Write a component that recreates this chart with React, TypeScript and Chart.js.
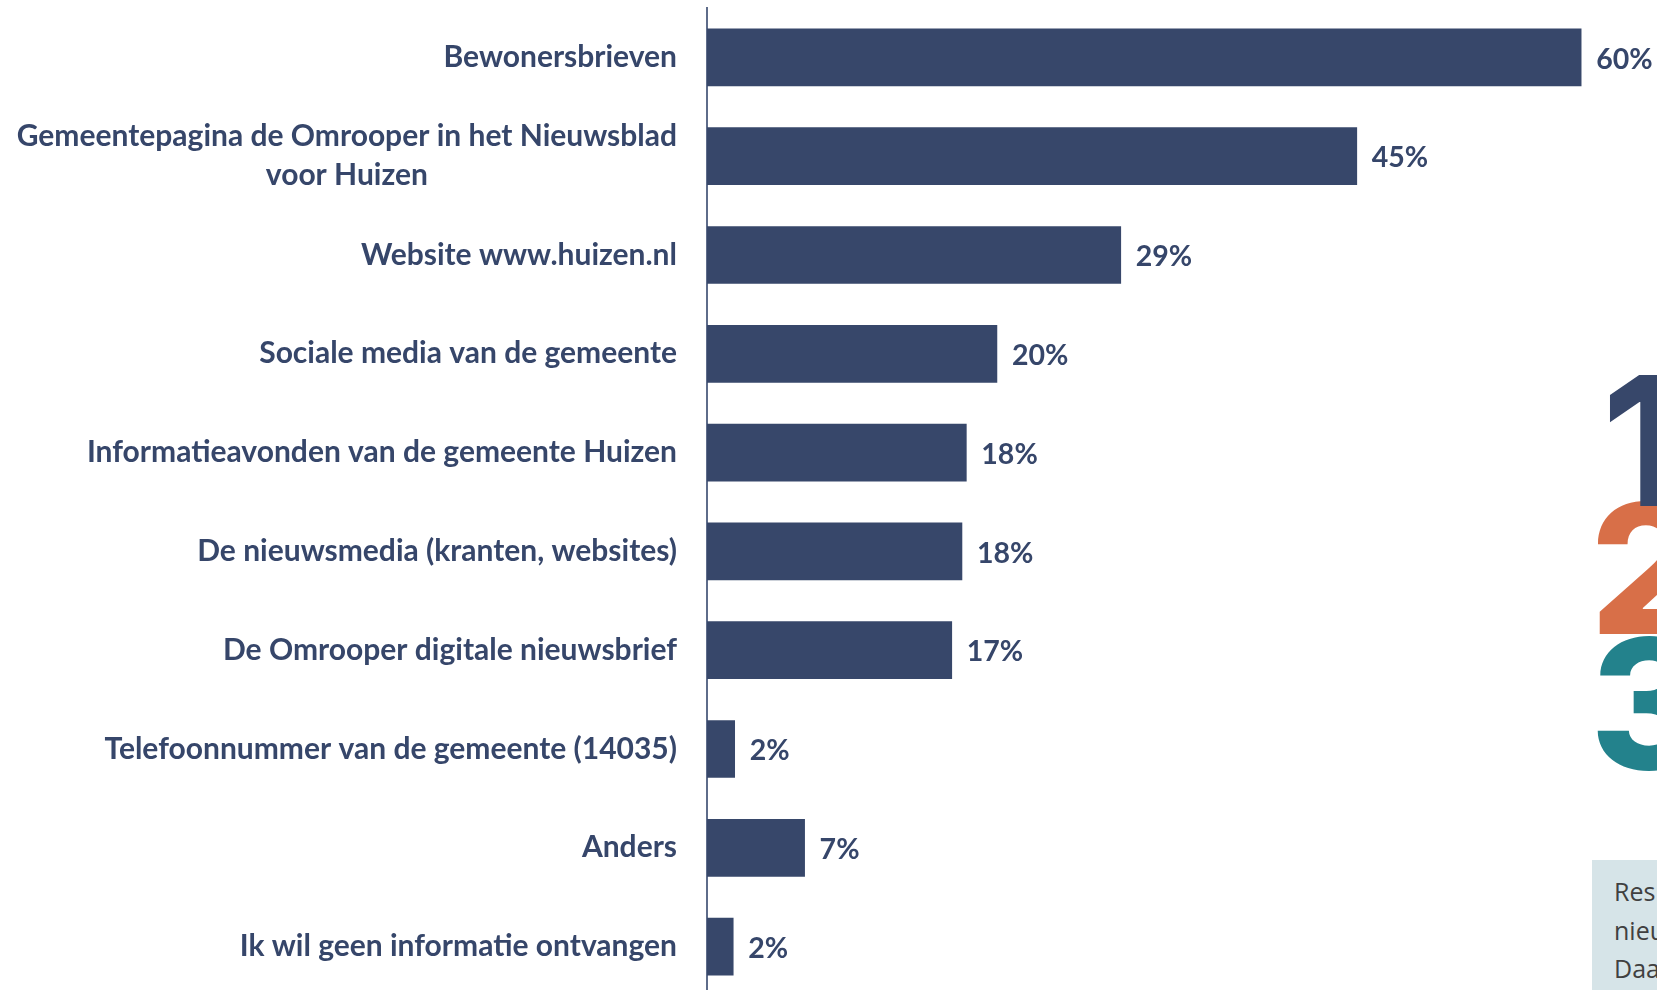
import React, { useEffect, useRef } from "react";
import { Chart, registerables } from "chart.js";

Chart.register(...registerables);

const categories: (string | string[])[] = [
  "Bewonersbrieven",
  ["Gemeentepagina de Omrooper in het Nieuwsblad", "voor Huizen"],
  "Website www.huizen.nl",
  "Sociale media van de gemeente",
  "Informatieavonden van de gemeente Huizen",
  "De nieuwsmedia (kranten, websites)",
  "De Omrooper digitale nieuwsbrief",
  "Telefoonnummer van de gemeente (14035)",
  "Anders",
  "Ik wil geen informatie ontvangen",
];
const values: number[] = [60, 44.6, 28.4, 19.9, 17.8, 17.5, 16.8, 1.9, 6.7, 1.8];
const valueLabels: string[] = ["60%", "45%", "29%", "20%", "18%", "18%", "17%", "2%", "7%", "2%"];

const NAVY = "#37476A";
const TEXT = "#36466A";
const FONT = "Lato, 'Open Sans', sans-serif";

const valueLabelPlugin = {
  id: "valueLabels",
  afterDatasetsDraw(chart: any) {
    const ctx = chart.ctx;
    const meta = chart.getDatasetMeta(0);
    ctx.save();
    ctx.font = `bold 28.5px ${FONT}`;
    ctx.fillStyle = TEXT;
    ctx.textAlign = "left";
    ctx.textBaseline = "middle";
    meta.data.forEach((bar: any, i: number) => {
      ctx.fillText(valueLabels[i], bar.x + 15, bar.y + 2);
    });
    ctx.restore();
  },
};

// Category labels: block right-aligned against the axis, lines centred within the block
const categoryLabelPlugin = {
  id: "categoryLabels",
  afterDraw(chart: any) {
    const ctx = chart.ctx;
    const yScale = chart.scales.y;
    const right = yScale.right - 30;
    const lineH = 39;
    ctx.save();
    ctx.font = `bold 30px ${FONT}`;
    ctx.fillStyle = TEXT;
    ctx.textAlign = "center";
    ctx.textBaseline = "middle";
    categories.forEach((label, i) => {
      const lines = Array.isArray(label) ? label : [label];
      const w = Math.max(...lines.map((l) => ctx.measureText(l).width));
      const cx = right - w / 2;
      const cy = yScale.getPixelForValue(i);
      lines.forEach((l, j) => {
        const y = cy + (j - (lines.length - 1) / 2) * lineH;
        ctx.fillText(l, cx, y);
      });
    });
    ctx.restore();
  },
};

export default function App() {
  const ref = useRef<HTMLCanvasElement | null>(null);
  useEffect(() => {
    document.body.style.margin = "0";
    document.body.style.overflow = "hidden";
    const chart = new Chart(ref.current as HTMLCanvasElement, {
      type: "bar",
      data: {
        labels: categories,
        datasets: [
          {
            data: values,
            backgroundColor: NAVY,
            borderWidth: 0,
            barThickness: 57,
          },
        ],
      },
      options: {
        indexAxis: "y",
        animation: false,
        responsive: false,
        maintainAspectRatio: false,
        layout: { padding: { top: 8, right: 3, bottom: 0, left: 0 } },
        plugins: {
          legend: { display: false },
          tooltip: { enabled: false },
        },
        scales: {
          x: {
            display: false,
            min: 0,
            max: 65,
          },
          y: {
            afterFit: (scale: any) => {
              scale.width = 707;
              scale.paddingTop = 0;
              scale.paddingBottom = 0;
            },
            grid: { display: false, drawTicks: false },
            border: { display: true, color: "#5E6C8A", width: 2 },
            ticks: { display: false },
          },
        },
      },
      plugins: [valueLabelPlugin, categoryLabelPlugin],
    });
    return () => chart.destroy();
  }, []);

  return (
    <div style={{ position: "fixed", left: 0, top: 0, width: 1657, height: 990, overflow: "hidden", background: "#fff" }}>
      <canvas ref={ref} width={1657} height={996} style={{ position: "absolute", left: 0, top: 0, width: 1657, height: 996 }} />
      <div style={{ position: "absolute", left: 1590, top: 330, fontFamily: "Inter, sans-serif", fontWeight: 800, fontSize: 180, lineHeight: "133px", color: "#23828C" }}>
        <div style={{ position: "absolute", top: 307, left: 0 }}>3</div>
      </div>
      <div style={{ position: "absolute", left: 1590, top: 200, fontFamily: "Inter, sans-serif", fontWeight: 800, fontSize: 180, color: "#D86F48" }}>
        <div style={{ position: "absolute", top: 260, left: 0 }}>2</div>
      </div>
      <div style={{ position: "absolute", left: 1590, top: 200, fontFamily: "Inter, sans-serif", fontWeight: 800, fontSize: 180, color: NAVY }}>
        <div style={{ position: "absolute", top: 132, left: 12 }}>1</div>
      </div>
      <div style={{ position: "absolute", left: 1592, top: 860, width: 200, height: 200, background: "#D6E4E8", fontFamily: "'Open Sans', sans-serif", fontSize: 25, lineHeight: "38.5px", color: "#404040", paddingLeft: 22, paddingTop: 12, boxSizing: "border-box", whiteSpace: "nowrap" }}>
        <div>Respondenten</div>
        <div>nieuwsbrief</div>
        <div>Daarnaast</div>
      </div>
    </div>
  );
}
